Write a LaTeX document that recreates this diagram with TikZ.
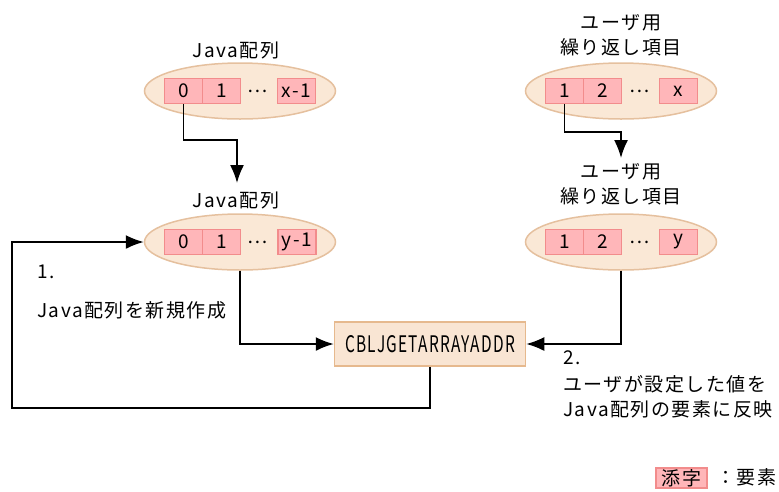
\documentclass[tikz,border=0pt]{standalone}
\usepackage{graphicx}
\usepackage{fontspec}
\setmainfont{Noto Sans CJK JP}[LetterSpace=8]
\usetikzlibrary{arrows.meta,shapes.geometric}
\definecolor{ellfill}{RGB}{250,232,214}
\definecolor{ellline}{RGB}{229,192,158}
\definecolor{cellfill}{RGB}{255,182,185}
\definecolor{cellline}{RGB}{242,140,140}
\definecolor{boxfill}{RGB}{249,229,211}
\definecolor{boxline}{RGB}{230,185,142}
\begin{document}
\begin{tikzpicture}[x=1pt,y=-1pt,
  font=\fontsize{19}{25}\selectfont,
  ell/.style={ellipse, draw=ellline, fill=ellfill, line width=1.5pt, minimum width=191pt, minimum height=56pt, inner sep=0pt},
  cell/.style={draw=cellline, fill=cellfill, line width=1.2pt, minimum width=38pt, minimum height=25pt, inner sep=0pt},
  lbl/.style={align=center, inner sep=0pt},
  ln/.style={line width=1.6pt},
  arr/.style={line width=1.7pt, -{Latex[length=18pt,width=14pt]}},
  txt/.style={anchor=west, inner sep=0pt}]
\useasboundingbox (0,0) rectangle (779,491);

% top-left Java array
\node[lbl] (lbl1) at (236,50) {Java配列};
\node[ell] (e1) at (240,91) {};
\node[cell] (c1a) at (183.5,91) {0};
\node[cell] (c1b) at (221.5,91) {1};
\node (c1d) at (258,91) {…};
\node[cell] (c1c) at (296.5,91) {x-1};

% top-right user repeating item
\node[lbl] (lbl2) at (621,35.5) {ユーザ用\\繰り返し項目};
\node[ell] (e2) at (621,91) {};
\node[cell] (c2a) at (564.5,91) {1};
\node[cell] (c2b) at (602.5,91) {2};
\node (c2d) at (640,91) {…};
\node[cell] (c2c) at (678.5,91) {x};

% middle-left Java array
\node[lbl] (lbl3) at (236,200) {Java配列};
\node[ell] (e3) at (240,242) {};
\node[cell] (c3a) at (183.5,242) {0};
\node[cell] (c3b) at (221.5,242) {1};
\node (c3d) at (258,242) {…};
\node[cell] (c3c) at (297,242) {y-1};

% middle-right user repeating item
\node[lbl] (lbl4) at (621,184) {ユーザ用\\繰り返し項目};
\node[ell] (e4) at (621,242) {};
\node[cell] (c4a) at (564.5,242) {1};
\node[cell] (c4b) at (602.5,242) {2};
\node (c4d) at (640,242) {…};
\node[cell] (c4c) at (678.5,242) {y};

% API box
\node[draw=boxline, fill=boxfill, line width=1.5pt, minimum width=191pt, minimum height=44pt, inner sep=0pt] (box) at (430,344)
  {\resizebox{170pt}{17pt}{CBLJGETARRAYADDR}};

% step texts
\node[txt] (s1) at (37,272) {1.};
\node[txt] (s1t) at (37,310) {Java配列を新規作成};
\node[txt] (s2) at (563,358) {2.};
\node[txt, align=left] (s2t) at (563,397) {ユーザが設定した値を\\Java配列の要素に反映};

% legend
\node[cell, minimum width=51pt, minimum height=20pt] (leg) at (681.5,478) {添字};
\node[txt] (legt) at (716,477) {：要素};

% connectors
\coordinate (t1) at (237,183);
\coordinate (t2) at (621,158);
\coordinate (l1) at (12,408);
\draw[arr] (c1a.south) -- ++(0,36) -| (t1);
\draw[arr] (c2a.south) -- ++(0,28) -| (t2);
\draw[arr] (e3.south) |- (box.west);
\draw[arr] (e4.south) |- (box.east);
\draw[arr] (box.south) |- (l1) |- (e3.west);
\end{tikzpicture}
\end{document}
